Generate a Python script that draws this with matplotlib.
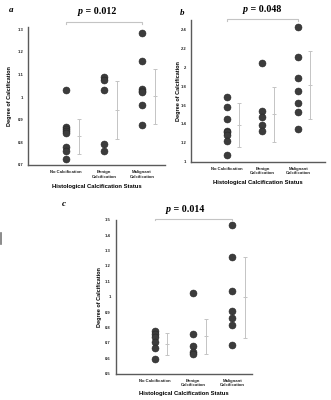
import matplotlib
matplotlib.use("Agg")
import matplotlib.pyplot as plt
from matplotlib.lines import Line2D
from matplotlib.ticker import FuncFormatter, MultipleLocator

categories = ["No Calcification", "Benign\nCalcification", "Malignant\nCalcification"]

# Panel a
a_none = [1.03, 0.87, 0.86, 0.85, 0.84, 0.78, 0.76, 0.725]
a_benign = [1.087, 1.076, 1.032, 0.792, 0.76]
a_malig = [1.284, 1.161, 1.038, 1.029, 1.022, 0.964, 0.875]
a_err_center = [0.826, 0.944, 1.004]
a_err_half = [0.077, 0.128, 0.121]

# Panel b
b_none = [1.68, 1.58, 1.45, 1.33, 1.31, 1.28, 1.22, 1.07]
b_benign = [2.05, 1.534, 1.474, 1.386, 1.328]
b_malig = [2.43, 2.11, 1.888, 1.746, 1.623, 1.524, 1.343]
b_err_center = [1.39, 1.50, 1.81]
b_err_half = [0.23, 0.293, 0.363]

# Panel c
c_none = [0.777, 0.76, 0.738, 0.707, 0.664, 0.598]
c_benign = [1.025, 0.76, 0.679, 0.64, 0.631]
c_malig = [1.467, 1.258, 1.035, 0.904, 0.862, 0.814, 0.686]
c_err_center = [0.693, 0.742, 0.996]
c_err_half = [0.071, 0.113, 0.262]

p_texts = ["0.012", "0.048", "0.014"]
panel_letters = ["a", "b", "c"]

fig = plt.figure(figsize=(3.31, 4.0), dpi=100)

SANS = "Liberation Sans"
SERIF = "Liberation Serif"
DOT_FACE = "#3c3c3c"
DOT_EDGE = "#262626"
ERR_COL = "#c4c4c4"
AX_COL = "#5a5a5a"


def fmt(v, pos):
    return f"{round(v, 2):g}"


def panel(rect, groups, err_c, err_h, ylim, ystep, xmax, bracket_y, bracket_d,
          letter, ptxt, letter_xy, ptxt_xy, xlabel_y, ylabel_x):
    ax = fig.add_axes(rect)
    for i, vals in enumerate(groups):
        ax.plot([i + 1] * len(vals), vals, linestyle="none", marker="o",
                markersize=5.0, markerfacecolor=DOT_FACE,
                markeredgecolor=DOT_EDGE, markeredgewidth=0.4, zorder=3)
    xs = [i + 1 + 0.33 for i in range(len(groups))]
    ax.errorbar(xs, err_c, yerr=err_h, fmt="none", ecolor=ERR_COL,
                elinewidth=0.7, capsize=1.4, capthick=0.7, zorder=2)
    ax.plot(xs, err_c, linestyle="none", marker="_", markersize=2.8,
            markeredgewidth=0.7, color=ERR_COL, zorder=2)
    ax.plot([1, 1, 3, 3], [bracket_y - bracket_d, bracket_y, bracket_y,
                            bracket_y - bracket_d],
            color=ERR_COL, linewidth=0.8, clip_on=False)
    ax.set_xlim(0, xmax)
    ax.set_ylim(*ylim)
    ax.yaxis.set_major_locator(MultipleLocator(ystep))
    ax.yaxis.set_major_formatter(FuncFormatter(fmt))
    ax.set_xticks([1, 2, 3])
    ax.set_xticklabels(categories, fontsize=3.1, fontfamily=SANS,
                       fontweight="bold", linespacing=1.25)
    for lab in ax.get_yticklabels():
        lab.set_fontsize(3.0)
        lab.set_fontfamily(SANS)
        lab.set_fontweight("bold")
    ax.tick_params(axis="both", length=0, pad=3.5, colors="#222222")
    for s in ["top", "right"]:
        ax.spines[s].set_visible(False)
    for s in ["left", "bottom"]:
        ax.spines[s].set_color(AX_COL)
        ax.spines[s].set_linewidth(1.0)
    ax.set_ylabel("Degree of Calcification", fontsize=4.0, fontfamily=SANS,
                  fontweight="bold")
    ax.yaxis.set_label_coords(ylabel_x, 0.5)
    ax.set_xlabel("Histological Calcification Status", fontsize=4.2,
                  fontfamily=SANS, fontweight="bold")
    ax.xaxis.set_label_coords(0.5, xlabel_y)
    fig.text(letter_xy[0] / 331, 1 - letter_xy[1] / 400, letter,
             fontsize=6.5, fontfamily=SERIF, fontweight="bold",
             fontstyle="italic", ha="center", va="center")
    fig.text(ptxt_xy[0] / 331, 1 - ptxt_xy[1] / 400, "p", fontsize=7.2,
             fontfamily=SERIF, fontweight="bold", fontstyle="italic",
             ha="right", va="center")
    fig.text(ptxt_xy[0] / 331, 1 - ptxt_xy[1] / 400, " = " + ptxt,
             fontsize=7.2, fontfamily=SERIF, fontweight="bold",
             ha="left", va="center")
    return ax


def rect_px(x0, x1, ytop, ybot):
    return [x0 / 331, 1 - ybot / 400, (x1 - x0) / 331, (ybot - ytop) / 400]


panel(rect_px(28, 164.8, 27, 165), [a_none, a_benign, a_malig],
      a_err_center, a_err_half, (0.7, 1.31), 0.1, 3.6, 1.331, 0.008,
      "a", p_texts[0], (11.5, 9.5), (83, 11), -0.138, -0.12)

panel(rect_px(191, 325, 20, 161.7), [b_none, b_benign, b_malig],
      b_err_center, b_err_half, (1.0, 2.5), 0.2, 3.75, 2.51, 0.02,
      "b", p_texts[1], (182, 13), (248, 10), -0.129, -0.078)

panel(rect_px(115.7, 251.7, 219.7, 373.7), [c_none, c_benign, c_malig],
      c_err_center, c_err_half, (0.5, 1.5), 0.1, 3.5, 1.507, 0.012,
      "c", p_texts[2], (64, 204), (171, 210), -0.112, -0.104)

# small stray mark at the left edge of the original
fig.add_artist(Line2D([1 / 331, 1 / 331], [1 - 233 / 400, 1 - 244 / 400],
                      transform=fig.transFigure, color="#777777",
                      linewidth=1.2))

fig.savefig("out.png", dpi=100, facecolor="white")
